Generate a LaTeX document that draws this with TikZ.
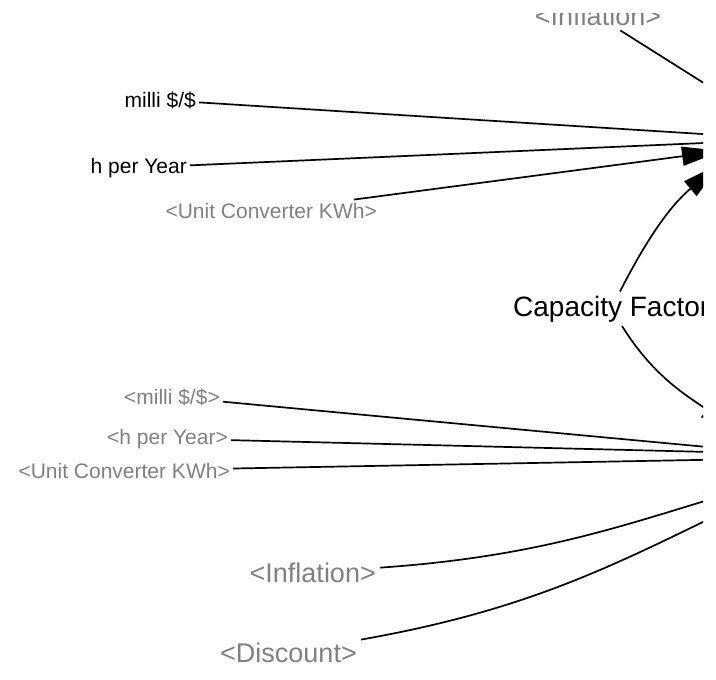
\documentclass[tikz,border=0pt]{standalone}
\usepackage{fontspec}
\setmainfont{Liberation Sans}
\usetikzlibrary{arrows.meta}
\definecolor{shadowgray}{RGB}{128,128,128}
\tikzstyle{varSmall} = [inner sep=3pt, text=black, font=\fontsize{21}{25}\selectfont]
\tikzstyle{shadowSmall} = [inner sep=3pt, text=shadowgray, font=\fontsize{21}{25}\selectfont]
\tikzstyle{varBig} = [inner sep=4pt, text=black, font=\fontsize{28}{32}\selectfont]
\tikzstyle{shadowBig} = [inner sep=4pt, text=shadowgray, font=\fontsize{27}{31}\selectfont]
\tikzstyle{arrow} = [line width=1.7pt, -{Triangle[length=40pt,width=19pt]}]

\begin{document}
\begin{tikzpicture}[x=1pt, y=1pt]

\useasboundingbox (0,0) rectangle (716,-680);

\coordinate (costtop1) at (750,-137);
\coordinate (costtop2) at (750,-141);
\coordinate (costtop3) at (722,-151);
\coordinate (costtop4) at (721,-163);
\coordinate (costtop5) at (745,-109);

\coordinate (costbot1) at (750,-451);
\coordinate (costbot2) at (750,-453);
\coordinate (costbot3) at (750,-459);
\coordinate (costbot4) at (739,-433);
\coordinate (costbot5) at (744,-489);
\coordinate (costbot6) at (748,-500);

\begin{scope}
\clip (0,-13) rectangle (703,-680);

\node (inflationtop) [shadowBig, anchor=base] at (598,-26) {<Inflation>};
\node (millitop) [varSmall, anchor=base east] at (199,-107) {milli \$/\$};
\node (hyeartop) [varSmall, anchor=base east] at (190,-173) {h per Year};
\node (unittop) [shadowSmall, anchor=base east] at (380,-218) {<Unit Converter KWh>};

\node (capacity) [varBig, anchor=base west] at (509,-316) {Capacity Factor};

\node (millibot) [shadowSmall, anchor=base east] at (223,-404) {<milli \$/\$>};
\node (hyearbot) [shadowSmall, anchor=base east] at (231,-444) {<h per Year>};
\node (unitbot) [shadowSmall, anchor=base east] at (233,-478) {<Unit Converter KWh>};
\node (inflationbot) [shadowBig, anchor=base east] at (380,-582) {<Inflation>};
\node (discount) [shadowBig, anchor=base east] at (361,-662) {<Discount>};

\draw [arrow] (inflationtop) -- (costtop5);
\draw [arrow] (millitop) -- (costtop1);
\draw [arrow] (hyeartop) -- (costtop2);
\draw [arrow] (unittop) -- (costtop3);
\draw [arrow] (capacity) to[out=63, in=220] (costtop4);

\draw [arrow] (capacity) to[out=-58, in=144] (costbot4);
\draw [arrow] (millibot) -- (costbot1);
\draw [arrow] (hyearbot) -- (costbot2);
\draw [arrow] (unitbot) -- (costbot3);
\draw [arrow] (inflationbot) to[out=4, in=197] (costbot5);
\draw [arrow] (discount) to[out=10, in=206] (costbot6);
\end{scope}

\end{tikzpicture}
\end{document}
